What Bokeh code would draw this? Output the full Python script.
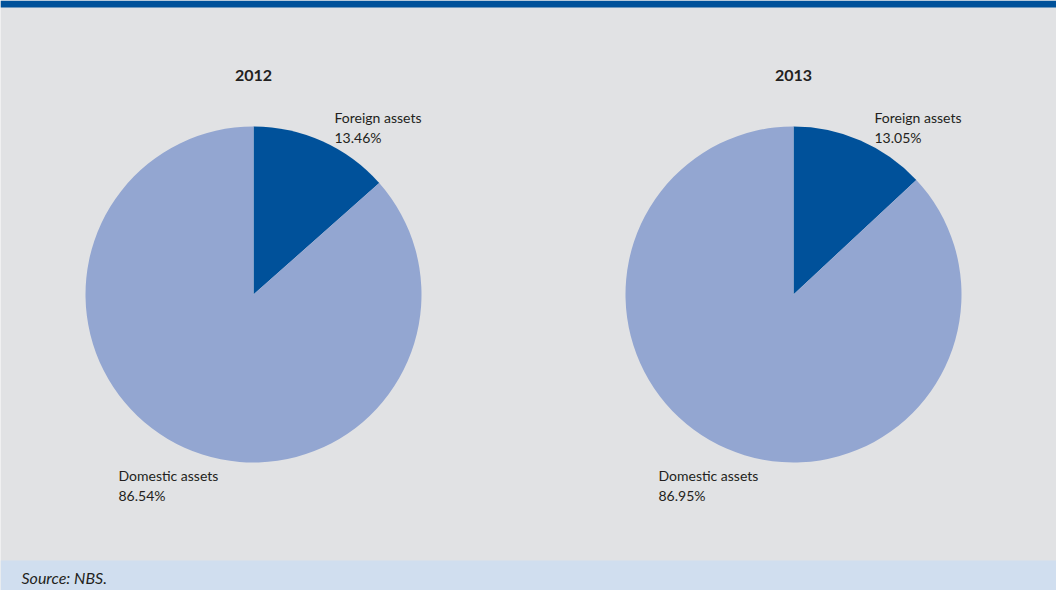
import numpy as np
from bokeh.plotting import figure
from bokeh.models import Range1d, ColumnDataSource
from bokeh.core.properties import value
from bokeh.embed import file_html
from bokeh.resources import INLINE

years = ["2012", "2013"]
categories = ["Foreign assets", "Domestic assets"]
foreign = [13.46, 13.05]
domestic = [86.54, 86.95]
colors = ["#00519a", "#93a6d1"]

W, H = 1056, 590
p = figure(width=W, height=H, output_backend="svg", toolbar_location=None,
           x_range=Range1d(0, W), y_range=Range1d(0, H), min_border=0,
           background_fill_color="#e1e2e4", border_fill_color="#e1e2e4")
p.axis.visible = False
p.grid.visible = False
p.outline_line_color = None

# bands
p.quad(left=0, right=W, bottom=H - 7, top=H, fill_color="#00519a", line_color=None)
p.quad(left=0, right=W, bottom=0, top=H - 560, fill_color="#d0deef", line_color=None)

centers_x = [253, 793]
cy = H - 294
R = 168
font = value("Lato")

for i, yr in enumerate(years):
    vals = np.array([foreign[i], domestic[i]]) / 100.0
    cum = np.concatenate([[0], np.cumsum(vals)])
    start = np.pi / 2 - cum[1:] * 2 * np.pi
    end = np.pi / 2 - cum[:-1] * 2 * np.pi
    src = ColumnDataSource(dict(start=start, end=end, color=colors, cat=categories))
    p.wedge(x=centers_x[i], y=cy, radius=R, start_angle="start", end_angle="end",
            fill_color="color", line_color=None, source=src)
    cx = centers_x[i]
    p.text(x=[cx], y=[H - 75], text=[yr], text_font=font, text_font_style="bold",
           text_font_size="16px", text_color="#231f20", text_align="center",
           text_baseline="middle")
    p.text(x=[cx + 81, cx + 81], y=[H - 117, H - 137],
           text=[categories[0], f"{foreign[i]:.2f}%"], text_font=font,
           text_font_size="14px", text_color="#231f20", text_align="left",
           text_baseline="middle")
    p.text(x=[cx - 135, cx - 135], y=[H - 475, H - 495],
           text=[categories[1], f"{domestic[i]:.2f}%"], text_font=font,
           text_font_size="14px", text_color="#231f20", text_align="left",
           text_baseline="middle")

p.text(x=[21], y=[H - 577], text=["Source: NBS."], text_font=font,
       text_font_style="italic", text_font_size="16px", text_color="#231f20",
       text_align="left", text_baseline="middle")

open("out.html", "w").write(file_html(p, INLINE))
